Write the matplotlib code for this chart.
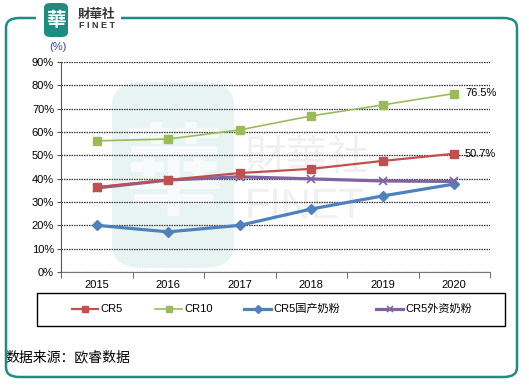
import matplotlib
matplotlib.use("Agg")
import matplotlib.pyplot as plt
from matplotlib.patches import FancyBboxPatch, Rectangle
from matplotlib.lines import Line2D

years = ["2015", "2016", "2017", "2018", "2019", "2020"]
cr5 = [36.4, 39.5, 42.4, 44.2, 47.6, 50.7]
cr10 = [56.2, 57.0, 60.9, 66.9, 71.6, 76.5]
cr5_domestic = [20.0, 17.2, 20.0, 27.0, 32.6, 37.7]
cr5_foreign = [36.0, 39.4, 40.8, 39.9, 39.0, 38.8]
series_names = ["CR5", "CR10", "CR5国产奶粉", "CR5外资奶粉"]
yticks = [0, 10, 20, 30, 40, 50, 60, 70, 80, 90]

plt.rcParams['font.family'] = ['Liberation Sans', 'Noto Sans CJK SC', 'DejaVu Sans']

W, H = 529, 388
fig = plt.figure(figsize=(W / 100, H / 100), dpi=100)

def fx(px):
    return px / W

def fy(py):
    return 1 - py / H

teal = "#1f8c82"
# outer frame
fig.patches.append(FancyBboxPatch((fx(6), fy(377)), fx(511), fy(18) - fy(377),
                                  boxstyle="round,pad=0,rounding_size=0.025",
                                  transform=fig.transFigure, fill=False, edgecolor=teal,
                                  lw=1.8, zorder=-5))
# gap behind logo
fig.patches.append(Rectangle((fx(36), fy(25)), fx(85), fy(10) - fy(25),
                             transform=fig.transFigure, facecolor="white", edgecolor="none",
                             zorder=-4))
# logo
fig.patches.append(FancyBboxPatch((fx(44), fy(37)), fx(24), fy(3) - fy(37),
                                  boxstyle="round,pad=0,rounding_size=0.012",
                                  transform=fig.transFigure, facecolor=teal, edgecolor="none",
                                  zorder=-3))
fig.text(fx(56), fy(20), "華", color="white", fontsize=14, ha="center", va="center",
         family=['Noto Sans CJK TC'], fontweight="bold", zorder=-2)
fig.text(fx(78), fy(14), "財華社", color="#333333", fontsize=9, ha="left", va="center",
         family=['Noto Sans CJK TC'], fontweight="bold", zorder=-2)
fig.text(fx(79), fy(26), "F I N E T", color="#333333", fontsize=6.5, ha="left", va="center",
         fontweight="bold", zorder=-2)

# watermark
fig.patches.append(FancyBboxPatch((fx(112), fy(268)), fx(122), fy(82) - fy(268),
                                  boxstyle="round,pad=0,rounding_size=0.06",
                                  transform=fig.transFigure, facecolor="#e8f4f2",
                                  edgecolor="none", zorder=-3))
fig.text(fx(173), fy(178), "華", color="#f8fbfb", fontsize=72, ha="center", va="center",
         family=['Noto Sans CJK TC'], fontweight="bold", zorder=-2)
fig.text(fx(245), fy(158), "財華社", color="#f0f0f0", fontsize=30, ha="left", va="center",
         family=['Noto Sans CJK TC'], zorder=-2)
fig.text(fx(245), fy(207), "FINET", color="#f0f0f0", fontsize=30, ha="left", va="center",
         zorder=-2)

ax = fig.add_axes([fx(61), fy(272), fx(490) - fx(61), fy(62) - fy(272)])
ax.patch.set_alpha(0)
x = list(range(len(years)))

styles = [
    dict(color="#c0504d", lw=1.6, marker="s", ms=6, mew=1, zorder=4),
    dict(color="#9bbb59", lw=1.2, marker="s", ms=6, mew=1, zorder=4),
    dict(color="#4f81bd", lw=2.3, marker="D", ms=5.5, mew=1, zorder=3),
    dict(color="#8064a2", lw=2.3, marker="x", ms=6, mew=1.2, zorder=3),
]
for vals, name, st in zip([cr5, cr10, cr5_domestic, cr5_foreign], series_names, styles):
    ax.plot(x, vals, label=name, **st)

ax.text(x[-1] + 0.15, cr10[-1], f"{cr10[-1]:.1f}%", fontsize=8, va="center", ha="left")
ax.text(x[-1] + 0.15, cr5[-1], f"{cr5[-1]:.1f}%", fontsize=8, va="center", ha="left")

ax.set_xlim(-0.5, 5.5)
ax.set_ylim(0, 90)
ax.set_yticks(yticks)
ax.set_yticklabels([f"{v}%" for v in yticks], fontsize=8)
ax.set_xticks(x)
ax.set_xticklabels(years, fontsize=8)
ax.tick_params(axis="x", length=0, pad=6)
ax.set_xticks([i + 0.5 for i in range(-1, len(years))], minor=True)
ax.tick_params(axis="x", which="minor", length=4, direction="out", color="#555555")
ax.tick_params(axis="y", length=3, direction="out", pad=2, color="#555555")
ax.grid(axis="y", linestyle=(0, (1.2, 0.8)), color="#333333", lw=0.9, zorder=1)
ax.set_axisbelow(True)
for s in ["top", "right"]:
    ax.spines[s].set_visible(False)
ax.spines["left"].set_color("#555555")
ax.spines["bottom"].set_color("#777777")
fig.text(fx(58), fy(47), "(%)", fontsize=8, color="#2a4aa0", ha="center", va="center")

# legend box (manual entries)
fig.patches.append(Rectangle((fx(37), fy(326)), fx(468), fy(293) - fy(326),
                             transform=fig.transFigure, fill=False, edgecolor="black", lw=1))
leg_x = [(72, 98), (155, 182), (244, 271), (376, 403)]
ly = fy(309)
for (x0, x1), name, st in zip(leg_x, series_names, styles):
    fig.lines.append(Line2D([fx(x0), fx(x1)], [ly, ly], transform=fig.transFigure,
                            color=st["color"], lw=st["lw"]))
    fig.lines.append(Line2D([fx((x0 + x1) / 2)], [ly], transform=fig.transFigure,
                            color=st["color"], marker=st["marker"], ms=st["ms"] * 0.75,
                            mew=st["mew"], linestyle="none"))
    fig.text(fx(x1 + 2), ly, name, fontsize=8, ha="left", va="center")

fig.text(fx(5), fy(357), "数据来源：欧睿数据", fontsize=10, ha="left", va="center",
         family=['Noto Sans CJK SC'])

fig.savefig("out.png", dpi=100)
